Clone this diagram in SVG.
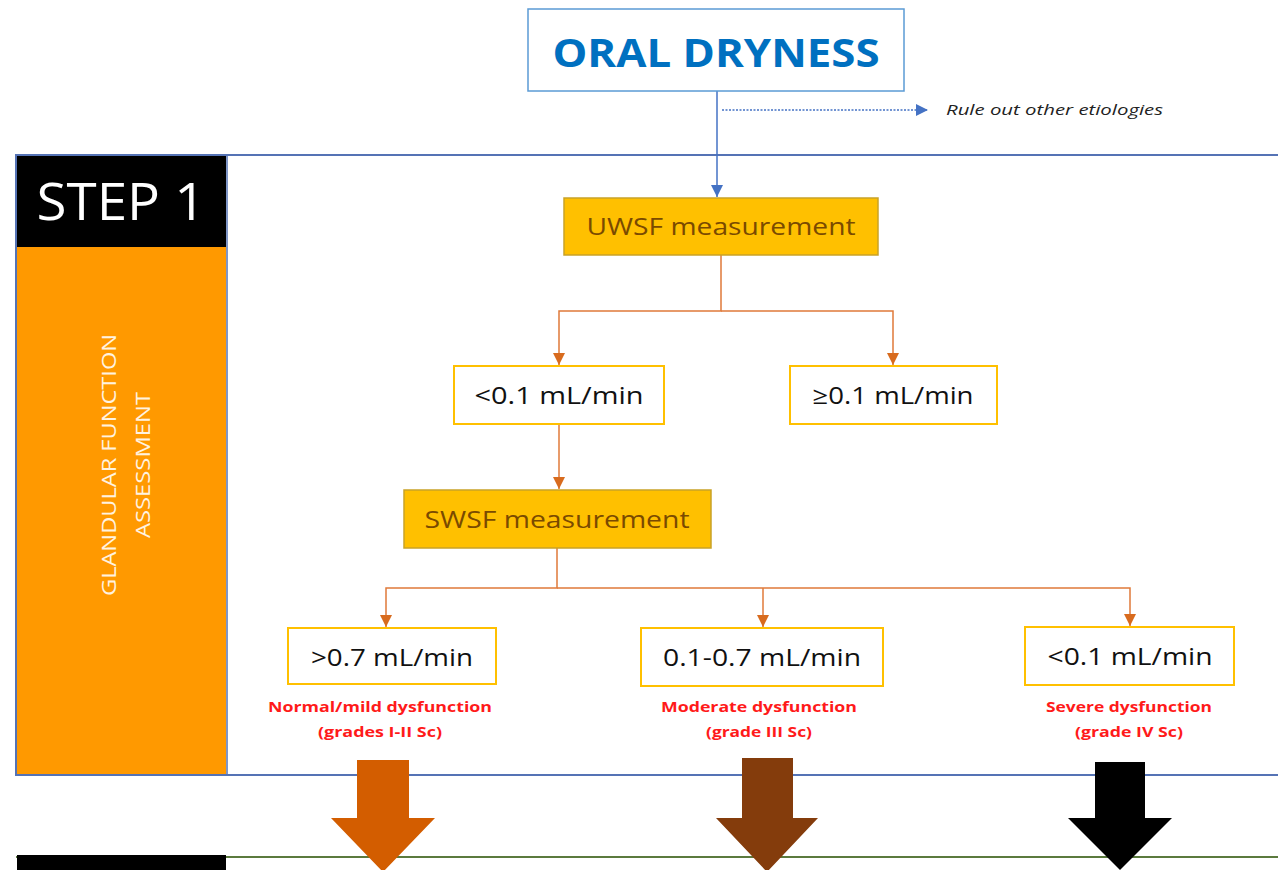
<svg xmlns="http://www.w3.org/2000/svg" width="1278" height="870" viewBox="0 0 1278 870">
<defs>
<marker id="ab" viewBox="0 0 10 10" refX="10" refY="5" markerWidth="12" markerHeight="12" markerUnits="userSpaceOnUse" orient="auto"><path d="M0,0 L10,5 L0,10 z" fill="#4472C4"/></marker>
<marker id="ao" viewBox="0 0 10 10" refX="10" refY="5" markerWidth="12" markerHeight="12" markerUnits="userSpaceOnUse" orient="auto"><path d="M0,0 L10,5 L0,10 z" fill="#D86B1E"/></marker>
</defs>
<style>
text{font-family:"Open Sans","Noto Sans","Liberation Sans",sans-serif}
.ob{fill:#FFC000;stroke:#C9A227;stroke-width:1.5}
.wb{fill:#fff;stroke:#FFC000;stroke-width:2}
.ot{font-size:24px;fill:#7A4A00;text-anchor:middle}
.wt{font-size:24px;fill:#111;text-anchor:middle}
.rt{font-size:14px;font-weight:bold;fill:#FF1A1A;text-anchor:middle}
.oc{fill:none;stroke:#E07A3A;stroke-width:1.5}
</style>
<rect width="1278" height="870" fill="#fff"/>
<g id="step1-frame">
<rect x="16" y="155" width="1270" height="620" fill="#fff" stroke="#5573B5" stroke-width="2"/>
<rect x="17" y="247" width="209" height="527" fill="#FF9900"/>
<rect x="17" y="156" width="209" height="91" fill="#000"/>
<line x1="16" y1="155" x2="16" y2="775" stroke="#5573B5" stroke-width="2"/>
<line x1="227" y1="155" x2="227" y2="775" stroke="#5573B5" stroke-width="1.5"/>
<text x="121" y="220" font-size="52" fill="#fff" text-anchor="middle" textLength="169" lengthAdjust="spacingAndGlyphs">STEP 1</text>
<text transform="translate(116,465) rotate(-90)" font-size="20" fill="#FFF3E0" text-anchor="middle" textLength="262" lengthAdjust="spacingAndGlyphs">GLANDULAR FUNCTION</text>
<text transform="translate(150,465) rotate(-90)" font-size="20" fill="#FFF3E0" text-anchor="middle" textLength="146" lengthAdjust="spacingAndGlyphs">ASSESSMENT</text>
</g>
<g id="step2-frame">
<line x1="16" y1="857" x2="1278" y2="857" stroke="#5B7A3E" stroke-width="2"/>
<rect x="17" y="855" width="209" height="15" fill="#000"/>
</g>
<g id="connectors">
<line x1="717" y1="91" x2="717" y2="197" stroke="#4472C4" stroke-width="1.5" marker-end="url(#ab)"/>
<line x1="722" y1="110" x2="928" y2="110" stroke="#4472C4" stroke-width="1.5" stroke-dasharray="2,1.5" marker-end="url(#ab)"/>
<path class="oc" d="M721,255 V311 H559 V365" marker-end="url(#ao)"/>
<path class="oc" d="M721,311 H893 V365" marker-end="url(#ao)"/>
<path class="oc" d="M559,424 V489" marker-end="url(#ao)"/>
<path class="oc" d="M557,548 V588 H386 V627" marker-end="url(#ao)"/>
<path class="oc" d="M557,588 H1130 V626" marker-end="url(#ao)"/>
<path class="oc" d="M763,588 V627" marker-end="url(#ao)"/>
</g>
<g id="oral-dryness">
<rect x="528" y="9" width="376" height="82" fill="#fff" stroke="#5B9BD5" stroke-width="1.5"/>
<text x="716" y="67" font-size="40" font-weight="bold" fill="#0070C0" text-anchor="middle" textLength="327" lengthAdjust="spacingAndGlyphs">ORAL DRYNESS</text>
</g>
<g id="rule-out">
<text x="946" y="115" font-size="14" font-style="italic" fill="#222" textLength="217" lengthAdjust="spacingAndGlyphs">Rule out other etiologies</text>
</g>
<g id="uwsf">
<rect class="ob" x="564" y="198" width="314" height="57"/>
<text class="ot" x="721" y="235" textLength="269" lengthAdjust="spacingAndGlyphs">UWSF measurement</text>
</g>
<g id="uwsf-low">
<rect class="wb" x="454" y="366" width="210" height="58"/>
<text class="wt" x="559" y="404" textLength="169" lengthAdjust="spacingAndGlyphs">&lt;0.1 mL/min</text>
</g>
<g id="uwsf-high">
<rect class="wb" x="790" y="366" width="207" height="58"/>
<text class="wt" x="893" y="404" textLength="161" lengthAdjust="spacingAndGlyphs">≥0.1 mL/min</text>
</g>
<g id="swsf">
<rect class="ob" x="404" y="490" width="307" height="58"/>
<text class="ot" x="557" y="528" textLength="265" lengthAdjust="spacingAndGlyphs">SWSF measurement</text>
</g>
<g id="swsf-high">
<rect class="wb" x="288" y="628" width="208" height="56"/>
<text class="wt" x="392" y="666" textLength="162" lengthAdjust="spacingAndGlyphs">&gt;0.7 mL/min</text>
<text class="rt" x="380" y="712" textLength="224" lengthAdjust="spacingAndGlyphs">Normal/mild dysfunction</text>
<text class="rt" x="380" y="737" textLength="124" lengthAdjust="spacingAndGlyphs">(grades I-II Sc)</text>
</g>
<g id="swsf-mid">
<rect class="wb" x="641" y="628" width="242" height="58"/>
<text class="wt" x="762" y="666" textLength="198" lengthAdjust="spacingAndGlyphs">0.1-0.7 mL/min</text>
<text class="rt" x="759" y="712" textLength="196" lengthAdjust="spacingAndGlyphs">Moderate dysfunction</text>
<text class="rt" x="759" y="737" textLength="106" lengthAdjust="spacingAndGlyphs">(grade III Sc)</text>
</g>
<g id="swsf-low">
<rect class="wb" x="1025" y="627" width="209" height="58"/>
<text class="wt" x="1130" y="665" textLength="165" lengthAdjust="spacingAndGlyphs">&lt;0.1 mL/min</text>
<text class="rt" x="1129" y="712" textLength="166" lengthAdjust="spacingAndGlyphs">Severe dysfunction</text>
<text class="rt" x="1129" y="737" textLength="108" lengthAdjust="spacingAndGlyphs">(grade IV Sc)</text>
</g>
<g id="big-arrows">
<path d="M357,760 H409 V818 H435 L383,872 L331,818 H357 Z" fill="#D35D00"/>
<path d="M742,758 H793 V818 H818 L767,872 L716,818 H742 Z" fill="#843C0C"/>
<path d="M1095,762 H1145 V818 H1172 L1120,870 L1068,818 H1095 Z" fill="#000"/>
</g>
</svg>
